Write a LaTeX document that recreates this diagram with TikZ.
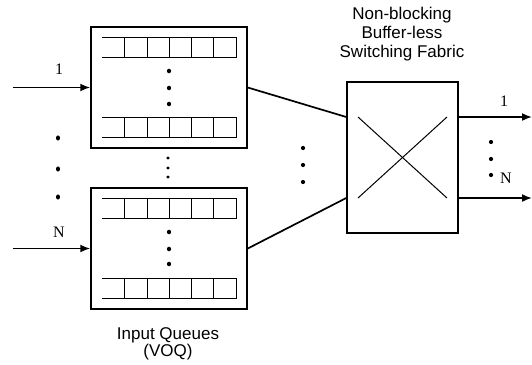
\documentclass[tikz,border=0pt]{standalone}
\usepackage{fontspec}
\setmainfont{Liberation Sans}
\newfontfamily\labelserif{Liberation Serif}
\usetikzlibrary{arrows.meta}

\tikzset{
  frame/.style={draw, line width=1.5pt, rectangle, inner sep=0pt},
  cell/.style={line width=1pt},
  wire/.style={line width=1.7pt},
  inarrow/.style={line width=1.7pt, -{Latex[length=10pt,width=8pt]}},
  dotmark/.style={fill=black},
  portlabel/.style={font=\labelserif\fontsize{16}{18}\selectfont, inner sep=0pt},
  caption/.style={font=\fontsize{17}{19}\selectfont, align=center, inner sep=0pt},
}

\begin{document}
\begin{tikzpicture}[x=1pt, y=-1pt]
\useasboundingbox (0,0) rectangle (532,364);

% input queue blocks
\node[frame, minimum width=156pt, minimum height=121pt] (qtop) at (169,87.5) {};
\node[frame, minimum width=156pt, minimum height=121pt] (qbot) at (169,248.5) {};

% VOQ rows: open on the left, six cells each
\foreach \y in {37,117,198,278} {
  \draw[cell] (102,\y) -- (236,\y) -- (236,\y+20.5) -- (102,\y+20.5);
  \foreach \x in {124,147,169,191,213}
    \draw[cell] (\x,\y) -- (\x,\y+20.5);
}

% switching fabric
\node[frame, minimum width=111pt, minimum height=151pt] (sw) at (402.5,157.5) {};
\coordinate (swin1) at ([yshift=40.5pt]sw.west);
\coordinate (swinN) at ([yshift=-40.5pt]sw.west);
\coordinate (swout1) at ([yshift=40.5pt]sw.east);
\coordinate (swoutN) at ([yshift=-40.5pt]sw.east);
\coordinate (xa) at (358,117);
\coordinate (xb) at (447,198);
\coordinate (xc) at (447,117);
\coordinate (xd) at (358,198);
\draw[cell] (xa) -- (xb);
\draw[cell] (xc) -- (xd);

% connections from the queues to the fabric
\draw[wire] (qtop.east) -- (swin1);
\draw[wire] (qbot.east) -- (swinN);

% input lines
\coordinate (in1) at (13,87.5);
\coordinate (inN) at (13,248.5);
\draw[inarrow] (in1) -- (qtop.west);
\draw[inarrow] (inN) -- (qbot.west);
\node[portlabel] (l1) at (59,69) {1};
\node[portlabel] (lN) at (59,232) {N};

% output lines
\coordinate (out1) at (532,117);
\coordinate (outN) at (532,198);
\draw[inarrow] (swout1) -- (out1);
\draw[inarrow] (swoutN) -- (outN);
\node[portlabel] (r1) at (504,101) {1};
\node[portlabel] (rN) at (506,178) {N};

% ellipsis dots
\foreach \y in {71,88,104} \fill[dotmark] (169,\y) ellipse (2.1pt and 2.3pt);
\foreach \y in {232,249,264} \fill[dotmark] (169,\y) ellipse (2.1pt and 2.3pt);
\foreach \y in {158,168,177} \fill[dotmark] (168,\y) ellipse (1.8pt and 1.6pt);
\foreach \y in {138,169,197} \fill[dotmark] (58,\y) ellipse (2pt and 2.6pt);
\foreach \y in {148,165,182} \fill[dotmark] (303,\y) ellipse (2.1pt and 2.1pt);
\foreach \y in {142,159,175} \fill[dotmark] (491,\y) ellipse (2.1pt and 2.1pt);

% captions
\node[caption, anchor=north] (fabtitle) at (402,7) {Non-blocking\\Buffer-less\\Switching Fabric};
\node[caption, anchor=north, font=\fontsize{17}{17.5}\selectfont] (qtitle) at (168,327) {Input Queues\\(VOQ)};
\end{tikzpicture}
\end{document}
